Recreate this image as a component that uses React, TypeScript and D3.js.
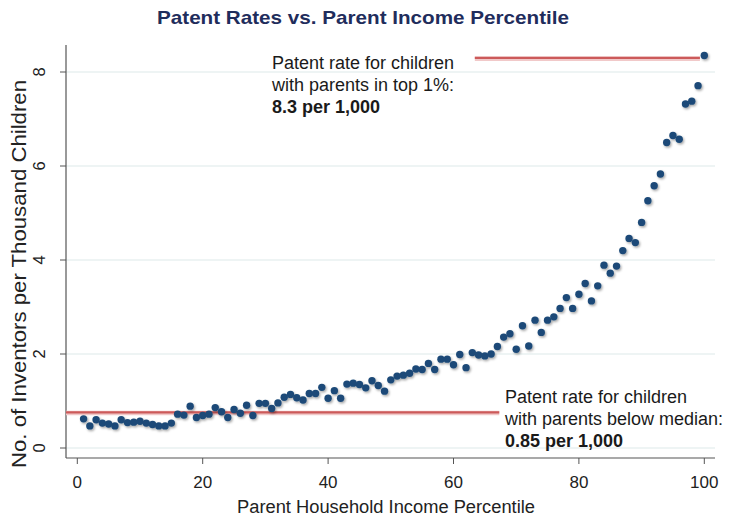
import React, { useEffect, useRef } from "react";
import * as d3 from "d3";

// patent rate per 1,000 children, parent income percentiles 1..100
const patentRates = [
  0.62, 0.47, 0.6, 0.53, 0.51, 0.47, 0.6, 0.54, 0.55, 0.57,
  0.53, 0.5, 0.47, 0.47, 0.53, 0.72, 0.7, 0.89, 0.65, 0.69,
  0.72, 0.86, 0.77, 0.65, 0.82, 0.74, 0.91, 0.69, 0.95, 0.95,
  0.84, 0.96, 1.08, 1.14, 1.07, 1.02, 1.16, 1.16, 1.29, 1.06,
  1.22, 1.06, 1.36, 1.38, 1.35, 1.28, 1.43, 1.33, 1.21, 1.45,
  1.53, 1.55, 1.59, 1.68, 1.67, 1.8, 1.67, 1.89, 1.89, 1.77,
  1.99, 1.71, 2.03, 1.98, 1.96, 2.0, 2.16, 2.36, 2.43, 2.1,
  2.6, 2.17, 2.72, 2.46, 2.72, 2.79, 2.97, 3.2, 2.97, 3.27,
  3.5, 3.13, 3.45, 3.89, 3.72, 3.87, 4.2, 4.46, 4.37, 4.8,
  5.26, 5.58, 5.83, 6.5, 6.65, 6.57, 7.32, 7.38, 7.71, 8.35,
];
const percentiles = patentRates.map((_, i) => i + 1);

const xTicks = [0, 20, 40, 60, 80, 100];
const yTicks = [0, 2, 4, 6, 8];

// reference lines: [from percentile, to percentile, level]
const topLine = [63.4, 99.3, 8.3];
const bottomLine = [-1.8, 67.3, 0.76];

const topNote = ["Patent rate for children", "with parents in top 1%:", "8.3 per 1,000"];
const bottomNote = ["Patent rate for children", "with parents below median:", "0.85 per 1,000"];

const W = 730;
const H = 517;
const font = "'Liberation Sans', Arial, Helvetica, sans-serif";

export default function App() {
  const ref = useRef<SVGSVGElement>(null);

  useEffect(() => {
    const svg = d3.select(ref.current);
    svg.selectAll("*").remove();

    const x = d3.scaleLinear().domain([0, 100]).range([77.3, 704.3]);
    const y = d3.scaleLinear().domain([0, 8]).range([448, 72]);
    const axisX = 66;
    const axisY = 458;
    const plotRight = 715;

    const defs = svg.append("defs");
    const f = defs
      .append("filter")
      .attr("id", "shadow")
      .attr("filterUnits", "userSpaceOnUse")
      .attr("x", 0)
      .attr("y", 0)
      .attr("width", W)
      .attr("height", H);
    f.append("feDropShadow")
      .attr("dx", 1.2)
      .attr("dy", 1.5)
      .attr("stdDeviation", 1)
      .attr("flood-color", "#000")
      .attr("flood-opacity", 0.35);

    // title
    svg
      .append("text")
      .attr("x", 157)
      .attr("y", 24)
      .attr("textLength", 412)
      .attr("lengthAdjust", "spacingAndGlyphs")
      .style("font-family", font)
      .style("font-size", "19px")
      .style("font-weight", "bold")
      .style("fill", "#1f2d5c")
      .text("Patent Rates vs. Parent Income Percentile");

    // gridlines
    svg
      .append("g")
      .selectAll("line")
      .data(yTicks)
      .join("line")
      .attr("x1", axisX)
      .attr("x2", plotRight)
      .attr("y1", (d) => y(d))
      .attr("y2", (d) => y(d))
      .attr("stroke", "#e8f0f1")
      .attr("stroke-width", 1.5);

    // y axis
    const ya = svg.append("g");
    ya.append("line")
      .attr("x1", axisX)
      .attr("x2", axisX)
      .attr("y1", 45)
      .attr("y2", axisY)
      .attr("stroke", "#555")
      .attr("stroke-width", 1.2);
    ya.selectAll(".tick")
      .data(yTicks)
      .join("line")
      .attr("x1", axisX - 6)
      .attr("x2", axisX)
      .attr("y1", (d) => y(d))
      .attr("y2", (d) => y(d))
      .attr("stroke", "#555");
    ya.selectAll("text")
      .data(yTicks)
      .join("text")
      .attr("transform", (d) => `translate(45,${y(d)}) rotate(-90)`)
      .attr("text-anchor", "middle")
      .style("font-family", font)
      .style("font-size", "16.5px")
      .style("fill", "#222")
      .text((d) => d);

    svg
      .append("text")
      .attr("transform", "translate(26,468) rotate(-90)")
      .attr("textLength", 388)
      .attr("lengthAdjust", "spacingAndGlyphs")
      .style("font-family", font)
      .style("font-size", "20px")
      .style("fill", "#222")
      .text("No. of Inventors per Thousand Children");

    // x axis
    const xa = svg.append("g");
    xa.append("line")
      .attr("x1", axisX)
      .attr("x2", plotRight)
      .attr("y1", axisY)
      .attr("y2", axisY)
      .attr("stroke", "#555")
      .attr("stroke-width", 1.2);
    xa.selectAll(".tick")
      .data(xTicks)
      .join("line")
      .attr("x1", (d) => x(d))
      .attr("x2", (d) => x(d))
      .attr("y1", axisY)
      .attr("y2", axisY + 6)
      .attr("stroke", "#555");
    xa.selectAll("text")
      .data(xTicks)
      .join("text")
      .attr("x", (d) => x(d))
      .attr("y", 488)
      .attr("text-anchor", "middle")
      .style("font-family", font)
      .style("font-size", "17px")
      .style("fill", "#222")
      .text((d) => d);

    svg
      .append("text")
      .attr("x", 237)
      .attr("y", 513)
      .attr("textLength", 298)
      .attr("lengthAdjust", "spacingAndGlyphs")
      .style("font-family", font)
      .style("font-size", "18px")
      .style("fill", "#222")
      .text("Parent Household Income Percentile");

    // reference lines (soft halo under a solid red line)
    const refs = svg.append("g");
    refs
      .selectAll(".halo")
      .data([topLine, bottomLine])
      .join("line")
      .attr("x1", (d) => Math.max(axisX, x(d[0])))
      .attr("x2", (d) => x(d[1]))
      .attr("y1", (d) => y(d[2]) + 0.8)
      .attr("y2", (d) => y(d[2]) + 0.8)
      .attr("stroke", "#f1c9c9")
      .attr("stroke-width", 4.5);
    refs
      .selectAll(".main")
      .data([topLine, bottomLine])
      .join("line")
      .attr("x1", (d) => Math.max(axisX, x(d[0])))
      .attr("x2", (d) => x(d[1]))
      .attr("y1", (d) => y(d[2]))
      .attr("y2", (d) => y(d[2]))
      .attr("stroke", "#cc5a5a")
      .attr("stroke-width", 2.2);

    // points
    svg
      .append("g")
      .attr("filter", "url(#shadow)")
      .selectAll("circle")
      .data(patentRates)
      .join("circle")
      .attr("cx", (_, i) => x(percentiles[i]))
      .attr("cy", (d) => y(d))
      .attr("r", 3.7)
      .attr("fill", "#1c4a78");

    // annotations
    const note = (lines: string[], x0: number, y0: number) => {
      const g = svg
        .append("g")
        .style("font-family", font)
        .style("font-size", "18px")
        .style("fill", "#1a1a1a");
      g.selectAll("text")
        .data(lines)
        .join("text")
        .attr("x", x0)
        .attr("y", (_, i) => y0 + i * 22)
        .style("font-weight", (_, i) => (i === 2 ? "bold" : "normal"))
        .text((d) => d);
    };
    note(topNote, 272, 69);
    note(bottomNote, 505, 403);
  }, []);

  return (
    <div style={{ position: "fixed", left: 0, top: 0, background: "#fff" }}>
      <svg ref={ref} width={W} height={H} style={{ display: "block" }} />
    </div>
  );
}
